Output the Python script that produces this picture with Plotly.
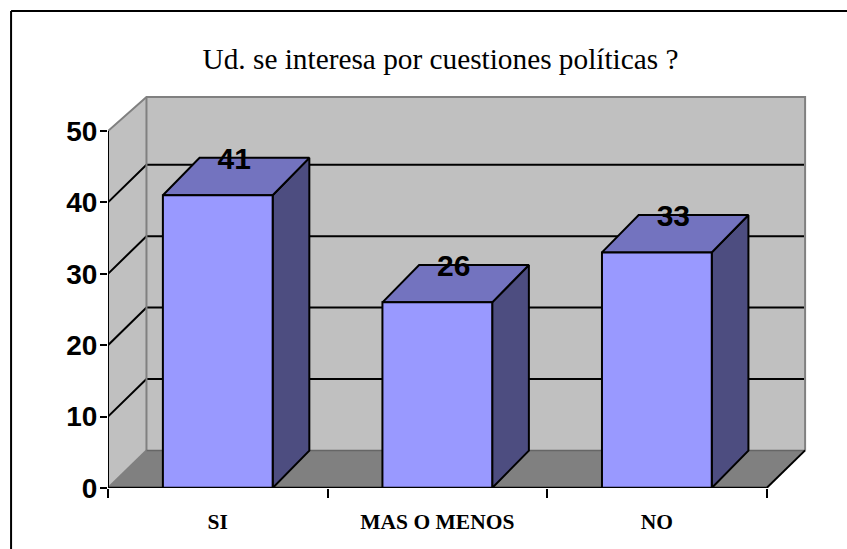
import plotly.graph_objects as go

categories = ["SI", "MAS O MENOS", "NO"]
values = [41, 26, 33]
y_ticks = [0, 10, 20, 30, 40, 50]
title_text = "Ud. se interesa por cuestiones políticas ?"

W, H = 847, 549
L, R, T, B = 107.5, 37, 90, 61
PX_X = 219.7   # px per category
PX_Y = 7.14    # px per value unit
X_MAX = (W - R - L) / PX_X
Y_MAX = (H - B - T) / PX_Y

WALL_DX, WALL_DY = 38.5 / PX_X, 37.6 / PX_Y
BAR_DX, BAR_DY = 36.7 / PX_X, 37.4 / PX_Y
BAR_HALF = 0.25
WALL_TOP = 50
WALL_TOP_BACK = 49.5
LABEL_DX, LABEL_DY = 0.075, 4.75
N = len(categories)

FRONT, TOP, SIDE = "#9999FF", "#7373BF", "#4D4D80"
WALL, FLOOR, EDGE = "#C0C0C0", "#808080", "#808080"

fig = go.Figure()


def poly(xs, ys, fill=None, line="#000000", width=2):
    fig.add_trace(go.Scatter(
        x=xs, y=ys, mode="lines", cliponaxis=False, showlegend=False, hoverinfo="skip",
        fill="toself" if fill else None, fillcolor=fill,
        line=dict(color=line, width=width) if line else dict(width=0),
    ))


back_top = WALL_TOP_BACK + WALL_DY
# back wall, side wall, floor
poly([WALL_DX, N + WALL_DX, N + WALL_DX, WALL_DX, WALL_DX],
     [WALL_DY, WALL_DY, back_top, back_top, WALL_DY], WALL, None)
poly([0, WALL_DX, WALL_DX, 0, 0], [0, WALL_DY, back_top, WALL_TOP, 0], WALL, None)
poly([0, N, N + WALL_DX, WALL_DX, 0], [0, 0, WALL_DY, WALL_DY, 0], FLOOR, None)

# gridlines
for t in y_ticks[1:-1]:
    poly([0, WALL_DX, N + WALL_DX - 0.005], [t, t + WALL_DY, t + WALL_DY])

# wall edges
poly([0, WALL_DX, N + WALL_DX, N + WALL_DX],
     [WALL_TOP, back_top, back_top, WALL_DY], None, EDGE, 2)
poly([WALL_DX, WALL_DX], [back_top, WALL_DY], None, EDGE, 2)
poly([0, WALL_DX], [0, WALL_DY], None, EDGE, 2)
poly([WALL_DX, N + WALL_DX], [WALL_DY, WALL_DY], None, "#666666", 1.5)

# bars
for i, v in enumerate(values):
    x0, x1 = i + 0.5 - BAR_HALF, i + 0.5 + BAR_HALF
    poly([x1, x1 + BAR_DX, x1 + BAR_DX, x1, x1], [0, BAR_DY, v + BAR_DY, v, 0], SIDE)
    poly([x0, x1, x1 + BAR_DX, x0 + BAR_DX, x0], [v, v, v + BAR_DY, v + BAR_DY, v], TOP)
    poly([x0, x1, x1, x0, x0], [0, 0, v, v, 0], FRONT)

# axis lines
poly([0, 0], [0, WALL_TOP])
poly([0, N], [0, 0], None, "#000000", 2.5)
poly([N, N + WALL_DX], [0, WALL_DY])

# value labels
fig.add_trace(go.Scatter(
    x=[i + 0.5 + LABEL_DX for i in range(N)],
    y=[v + LABEL_DY for v in values],
    text=[str(v) for v in values],
    mode="text", textposition="middle center", cliponaxis=False,
    showlegend=False, hoverinfo="skip",
    textfont=dict(family="Liberation Sans", size=30, color="#000000", weight="bold"),
))

PLOT_W, PLOT_H = W - L - R, H - T - B
def px(x): return (x - L) / PLOT_W
def py(y): return 1 - (y - T) / PLOT_H

fig.update_layout(
    width=W, height=H, autosize=False,
    paper_bgcolor="#FFFFFF", plot_bgcolor="#FFFFFF",
    margin=dict(l=L, r=R, t=T, b=B, pad=0),
    showlegend=False,
    title=dict(text=title_text, x=440.5 / W, xanchor="center", y=1 - 59 / H, yanchor="middle",
               font=dict(family="Liberation Serif", size=29.3, color="#000000")),
    xaxis=dict(range=[0, X_MAX], showgrid=False, zeroline=False, showline=False,
               tickmode="array", tickvals=[i + 0.5 for i in range(N)], ticktext=categories,
               ticks="", ticklabelstandoff=18,
               tickfont=dict(family="Liberation Serif", size=21.5, color="#000000", weight="bold"),
               minor=dict(tickmode="array", tickvals=list(range(N + 1)), ticks="outside",
                          ticklen=9, tickwidth=2, tickcolor="#000000", showgrid=False)),
    yaxis=dict(range=[0, Y_MAX], showgrid=False, zeroline=False, showline=False,
               tickmode="array", tickvals=y_ticks, ticks="outside", ticklen=7, tickwidth=2,
               tickcolor="#000000", ticklabelstandoff=-3,
               tickfont=dict(family="Liberation Sans", size=28, color="#000000", weight="bold")),
    shapes=[
        dict(type="line", xref="paper", yref="paper", x0=px(10.5), x1=px(10.5), y0=py(11), y1=py(H + 5),
             line=dict(color="#000000", width=2), layer="above"),
        dict(type="line", xref="paper", yref="paper", x0=px(10.5), x1=px(W + 5), y0=py(11), y1=py(11),
             line=dict(color="#000000", width=2), layer="above"),
    ],
)

fig.write_html("out.html", config=dict(displayModeBar=False),
               post_script="document.body.style.margin='0';document.body.style.overflow='hidden';")
